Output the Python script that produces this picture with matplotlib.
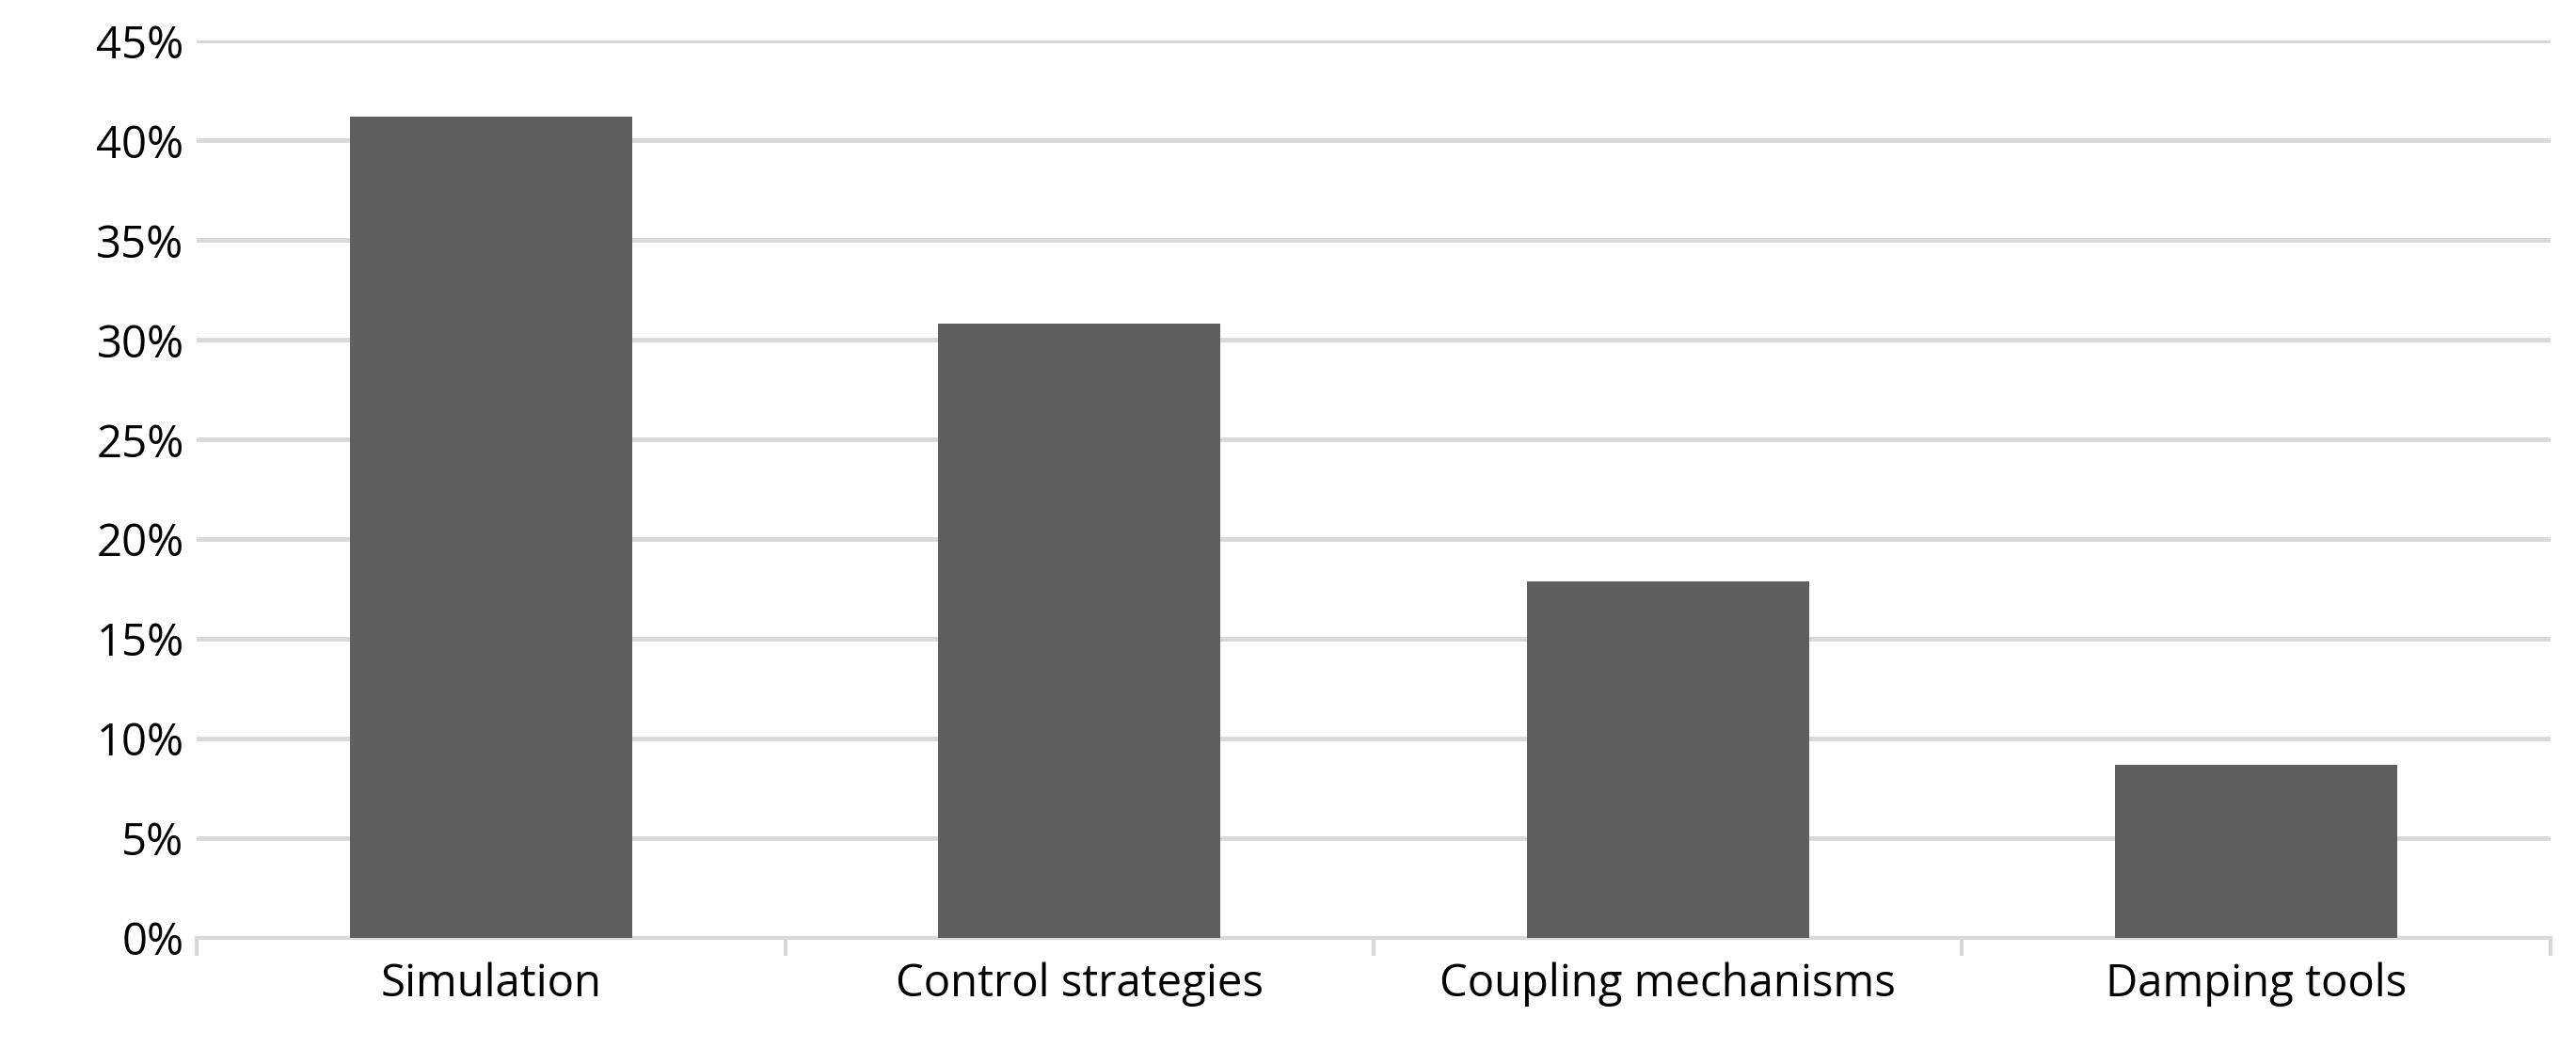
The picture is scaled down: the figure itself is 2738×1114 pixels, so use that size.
import matplotlib
matplotlib.use("Agg")
import matplotlib.pyplot as plt
from matplotlib.ticker import FuncFormatter, FixedLocator

categories = ["Simulation", "Control strategies", "Coupling mechanisms", "Damping tools"]
values = [41.2, 30.8, 17.9, 8.7]
yticks = [0, 5, 10, 15, 20, 25, 30, 35, 40, 45]

plt.rcParams['font.family'] = ['Open Sans', 'DejaVu Sans']
fig = plt.figure(figsize=(27.38, 11.14), dpi=100)
ax = fig.add_axes([0.0765, 0.105, 0.9135, 0.856])
x = range(len(categories))
ax.bar(x, values, width=0.48, color="#5f5f5f", zorder=3)
ax.set_xlim(-0.5, len(categories) - 0.5)
ax.set_ylim(0, 45)
ax.set_yticks(yticks)
ax.yaxis.set_major_formatter(FuncFormatter(lambda v, p: f"{int(v)}%"))
ax.grid(axis="y", color="#d9d9d9", linewidth=3.5, zorder=0)
ax.set_xticks(list(x))
ax.set_xticklabels(categories)
ax.xaxis.set_minor_locator(FixedLocator([i - 0.5 for i in range(len(categories) + 1)]))
ax.tick_params(axis="x", which="major", length=0, labelsize=34, pad=18)
ax.tick_params(axis="x", which="minor", length=14, width=3, color="#d9d9d9")
ax.tick_params(axis="y", length=0, labelsize=34, pad=10)
for s in ["top", "right", "left"]:
    ax.spines[s].set_visible(False)
ax.spines["bottom"].set_color("#d9d9d9")
ax.spines["bottom"].set_linewidth(3)
fig.savefig("out.png", dpi=100)
